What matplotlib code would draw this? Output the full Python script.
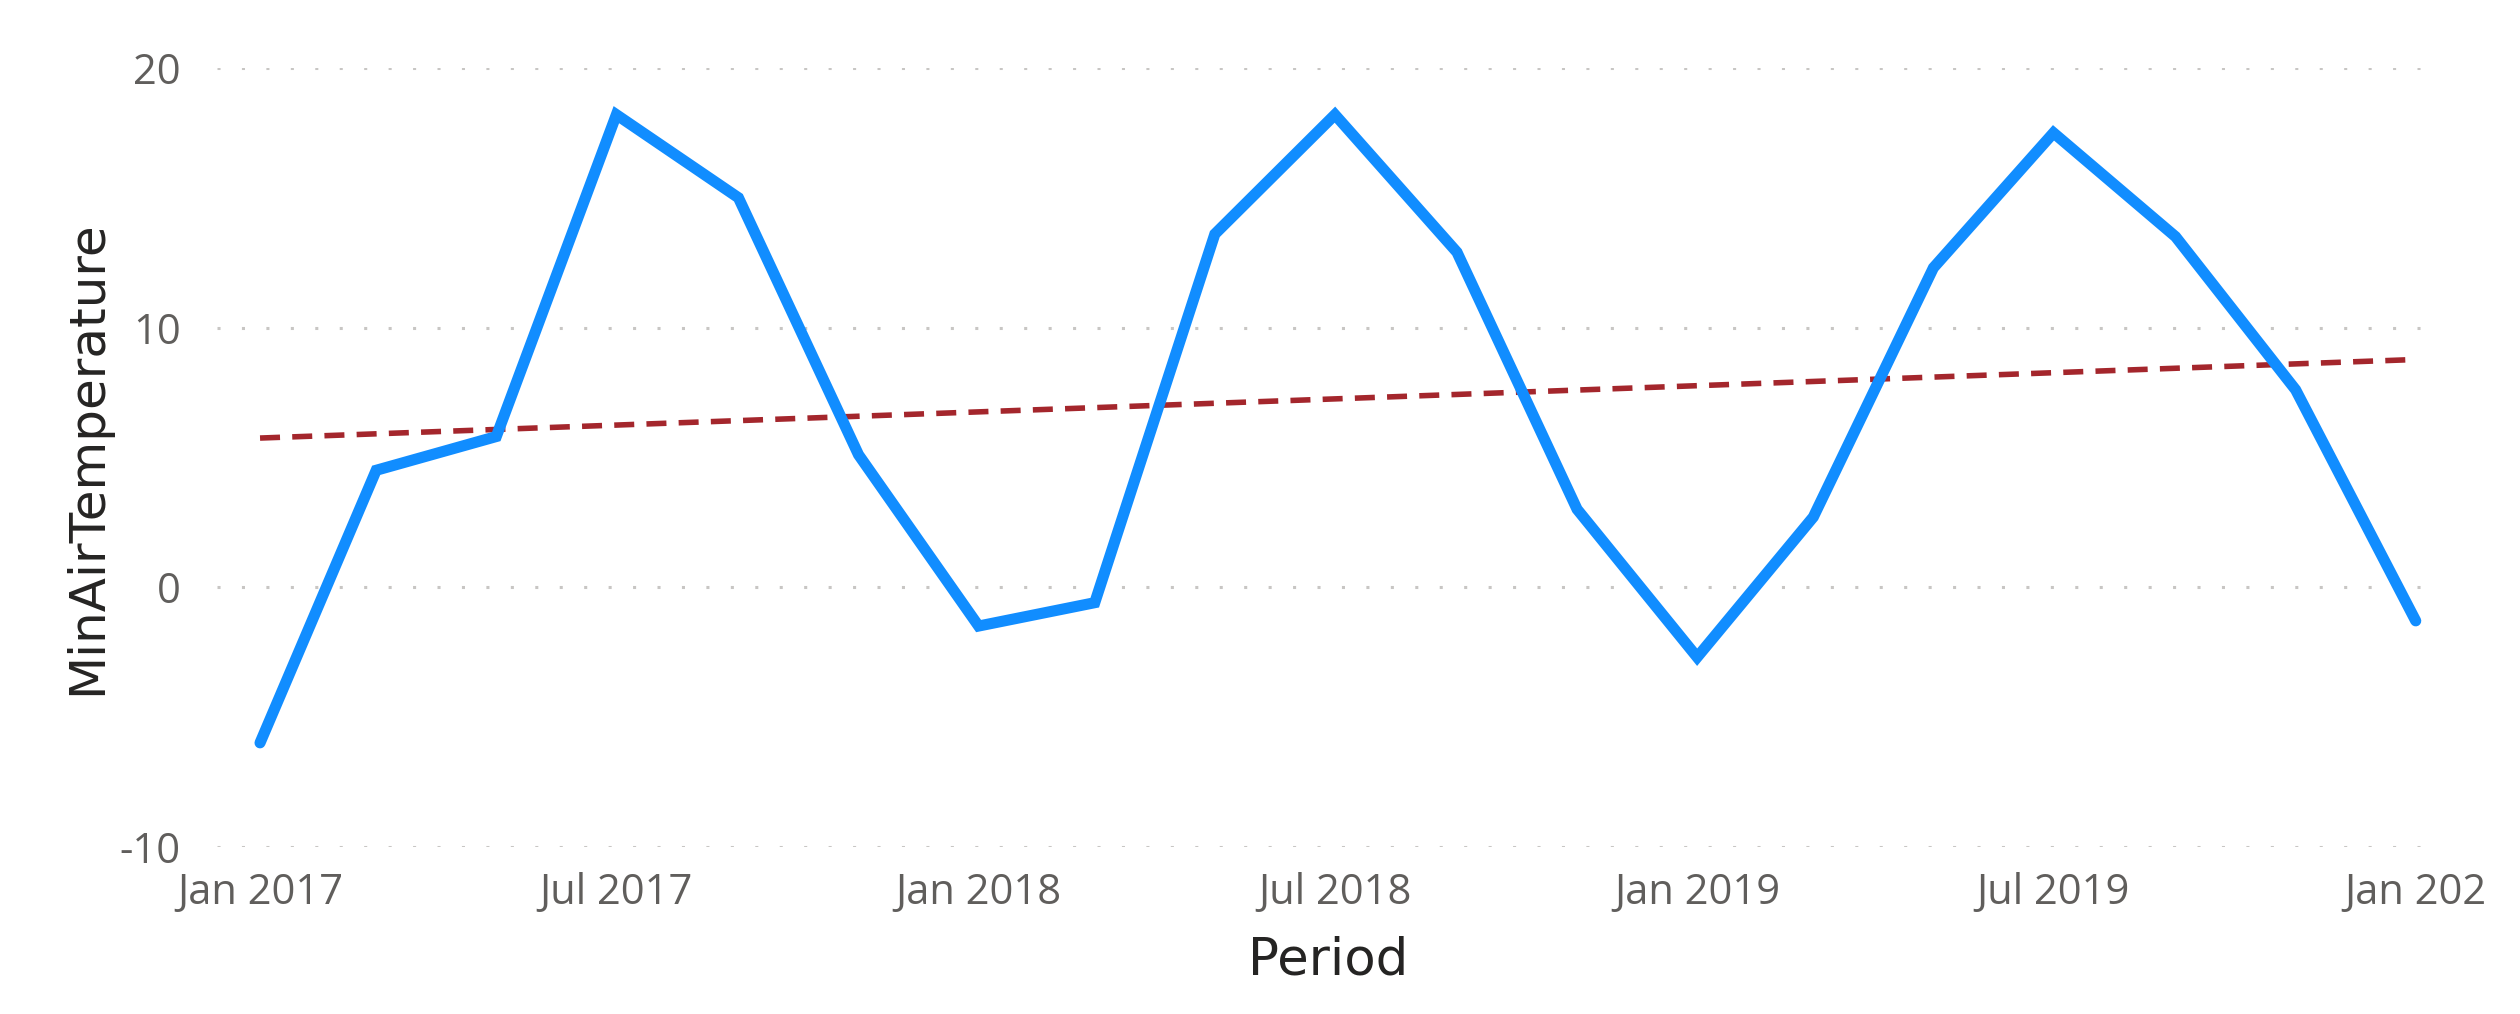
import numpy as np
import matplotlib
matplotlib.use("Agg")
import matplotlib.pyplot as plt
import matplotlib.dates as mdates
from datetime import datetime, timedelta

plt.rcParams["axes.unicode_minus"] = False

# bi-monthly points, Jan 2017 .. Jan 2020
periods = [datetime(2017 + (m // 12), m % 12 + 1, 1) for m in range(0, 37, 2)]
min_air_temp = [-6.0, 4.5, 5.8, 18.2, 15.0, 5.1, -1.5, -0.6, 13.6, 18.2,
                12.9, 3.0, -2.7, 2.7, 12.3, 17.5, 13.5, 7.6, -1.3]
tick_dates = [datetime(2017, 1, 1), datetime(2017, 7, 1), datetime(2018, 1, 1),
              datetime(2018, 7, 1), datetime(2019, 1, 1), datetime(2019, 7, 1),
              datetime(2020, 1, 1)]
tick_labels = ["Jan 2017", "Jul 2017", "Jan 2018", "Jul 2018",
               "Jan 2019", "Jul 2019", "Jan 202"]
y_ticks = [-10, 0, 10, 20]

x = mdates.date2num(periods)
# linear trend line
slope, intercept = np.polyfit(x, min_air_temp, 1)
trend = slope * x + intercept

fig = plt.figure(figsize=(25.2, 10.14), dpi=100)
ax = fig.add_axes([0.086, 0.165, 0.882, 0.768])

ax.plot(periods, min_air_temp, color="#118DFF", lw=8, solid_joinstyle="miter",
        solid_capstyle="round", zorder=3)
ax.plot(periods, trend, color="#A4262C", lw=4, dashes=(3.6, 2.2), zorder=2)

ax.set_ylim(-10, 20)
ax.set_yticks(y_ticks)
ax.set_xlim(periods[0] - timedelta(days=22), periods[-1] + timedelta(days=12))
ax.set_xticks(tick_dates)
ax.set_xticklabels(tick_labels)

ax.grid(axis="y", color="#C8C6C4", lw=2.2, linestyle=(0, (1, 7)))
ax.grid(axis="x", visible=False)
for s in ax.spines.values():
    s.set_visible(False)
ax.tick_params(axis="both", length=0, colors="#605E5C", labelsize=30)
ax.tick_params(axis="y", pad=26)
ax.tick_params(axis="x", pad=18)
for lab in ax.get_xticklabels() + ax.get_yticklabels():
    lab.set_fontfamily("Open Sans")

ax.set_xlabel("Period", fontsize=37, color="#252423", family="DejaVu Sans", labelpad=16)
ax.set_ylabel("MinAirTemperature", fontsize=36, color="#252423", family="DejaVu Sans", labelpad=6)

fig.savefig("out.png", dpi=100, facecolor="white")
